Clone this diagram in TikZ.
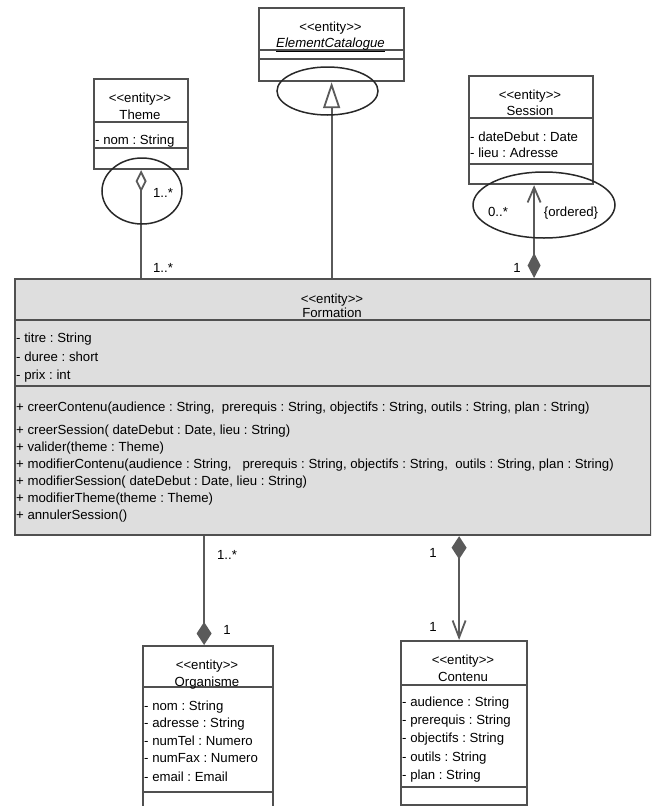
\documentclass[tikz,border=0pt]{standalone}
\usepackage{fontspec}
\setmainfont{Liberation Sans}
\usetikzlibrary{arrows.meta}
\newcommand\stereo{<\kern0pt<entity>\kern0pt>}
\definecolor{boxc}{RGB}{80,80,80}
\definecolor{connc}{RGB}{90,90,90}
\definecolor{ellc}{RGB}{40,40,40}
\definecolor{formfill}{RGB}{222,222,222}
\begin{document}
\frenchspacing
\begin{tikzpicture}[x=1pt,y=-1pt,
  font=\fontsize{13.2}{15}\selectfont,
  box/.style={draw=boxc, line width=2.2pt, rectangle, anchor=north west, inner sep=0pt},
  divl/.style={draw=boxc, line width=2pt},
  conn/.style={draw=connc, line width=1.8pt, fill=connc},
  ell/.style={draw=ellc, line width=1.5pt},
  txt/.style={inner sep=0pt, text height=9pt, text depth=1pt},
  lt/.style={txt, anchor=west},
  lbl/.style={txt}]
\useasboundingbox (0,0) rectangle (651,806);
\clip (0,0) rectangle (651,806);

% ---------- boxes ----------
\node[box, minimum width=145pt, minimum height=73pt] (ec) at (258,7) {};
\node[box, minimum width=94pt, minimum height=90pt] (theme) at (93,78) {};
\node[box, minimum width=124pt, minimum height=108pt] (sess) at (468,75) {};
\node[box, fill=formfill, minimum width=636pt, minimum height=256pt] (form) at (14,278) {};
\node[box, minimum width=130pt, minimum height=175pt] (org) at (142,645) {};
\node[box, minimum width=126pt, minimum height=164pt] (cont) at (400,640) {};

% ---------- dividers ----------
\draw[divl] (258,50) -- (403,50);
\draw[divl] (258,59) -- (403,59);
\draw[divl] (93,122) -- (187,122);
\draw[divl] (93,148) -- (187,148);
\draw[divl] (468,118) -- (592,118);
\draw[divl] (468,164) -- (592,164);
\draw[divl] (14,320) -- (650,320);
\draw[divl] (14,386) -- (650,386);
\draw[divl] (142,687) -- (272,687);
\draw[divl] (142,792) -- (272,792);
\draw[divl] (400,685) -- (526,685);
\draw[divl] (400,787) -- (526,787);

% ---------- texts ----------
\node[lbl] (ecs) at (330.5,27) {\stereo};
\node[lbl] (ecn) at (330.5,43) {\underline{\itshape ElementCatalogue}};

\node[lbl] (ths) at (140,98) {\stereo};
\node[lbl] (thn) at (140,115) {Theme};
\node[lt] (tha) at (95,140) {- nom : String};

\node[lbl] (ses) at (530,95) {\stereo};
\node[lbl] (sen) at (530,111) {Session};
\node[lt] (sea1) at (470,137) {- dateDebut : Date};
\node[lt] (sea2) at (470,153) {- lieu : Adresse};

\node[lbl] (fos) at (332,299) {\stereo};
\node[lbl] (fon) at (332,313) {Formation};
\node[lt] (foa1) at (16,338) {- titre : String};
\node[lt] (foa2) at (16,357) {- duree : short};
\node[lt] (foa3) at (16,375) {- prix : int};
\node[lt] (fom1) at (16,407) {+ creerContenu(audience : String, \ prerequis : String, objectifs : String, outils : String, plan : String)};
\node[lt] (fom2) at (16,430) {+ creerSession( dateDebut : Date, lieu : String)};
\node[lt] (fom3) at (16,447) {+ valider(theme : Theme)};
\node[lt] (fom4) at (16,464) {+ modifierContenu(audience : String, \ \ prerequis : String, objectifs : String, \ outils : String, plan : String)};
\node[lt] (fom5) at (16,481) {+ modifierSession( dateDebut : Date, lieu : String)};
\node[lt] (fom6) at (16,498) {+ modifierTheme(theme : Theme)};
\node[lt] (fom7) at (16,515) {+ annulerSession()};

\node[lbl] (ors) at (207,665) {\stereo};
\node[lbl] (orn) at (207,682) {Organisme};
\node[lt] (ora1) at (144,706) {- nom : String};
\node[lt] (ora2) at (144,723) {- adresse : String};
\node[lt] (ora3) at (144,741) {- numTel : Numero};
\node[lt] (ora4) at (144,758) {- numFax : Numero};
\node[lt] (ora5) at (144,777) {- email : Email};

\node[lbl] (cos) at (463,660) {\stereo};
\node[lbl] (con) at (463,677) {Contenu};
\node[lt] (coa1) at (402,702) {- audience : String};
\node[lt] (coa2) at (402,720) {- prerequis : String};
\node[lt] (coa3) at (402,738) {- objectifs : String};
\node[lt] (coa4) at (402,757) {- outils : String};
\node[lt] (coa5) at (402,775) {- plan : String};

% ---------- connectors ----------
\draw[conn, -{Triangle[open,fill=white,length=26pt,width=17pt]}] (ec.south |- form.north) -- (ec.south);
\draw[conn, -{Diamond[open,fill=white,length=22pt,width=11pt]}] (theme.south |- form.north) -- (theme.south);
\coordinate (sb) at ([xshift=3pt]sess.south);
\draw[conn, {Diamond[length=25pt,width=13pt]}-{Straight Barb[length=15pt,width=13pt]}] (sb |- form.north) -- (sb);
\coordinate (ot) at ([xshift=-4pt]org.north);
\draw[conn, -{Diamond[length=23pt,width=15pt]}] (ot |- form.south) -- (ot);
\coordinate (ct) at ([xshift=-5pt]cont.north);
\draw[conn, {Diamond[length=23pt,width=15pt]}-{Straight Barb[length=17pt,width=13pt]}] (ct |- form.south) -- (ct);

% ---------- ellipses ----------
\draw[ell] (327.5,91) ellipse [x radius=50.5pt, y radius=24pt];
\draw[ell] (142,191) ellipse [x radius=40pt, y radius=33pt];
\draw[ell] (544,205) ellipse [x radius=71pt, y radius=33pt];

% ---------- multiplicities ----------
\node[lbl] (m1) at (163,193) {1..*};
\node[lbl] (m2) at (163,268) {1..*};
\node[lbl] (m3) at (498,212) {0..*};
\node[lbl] (m4) at (571,212) {\{ordered\}};
\node[lbl] (m5) at (517,268) {1};
\node[lbl] (m6) at (227,555) {1..*};
\node[lbl] (m7) at (227,630) {1};
\node[lbl] (m8) at (433,553) {1};
\node[lbl] (m9) at (433,627) {1};
\end{tikzpicture}
\end{document}
